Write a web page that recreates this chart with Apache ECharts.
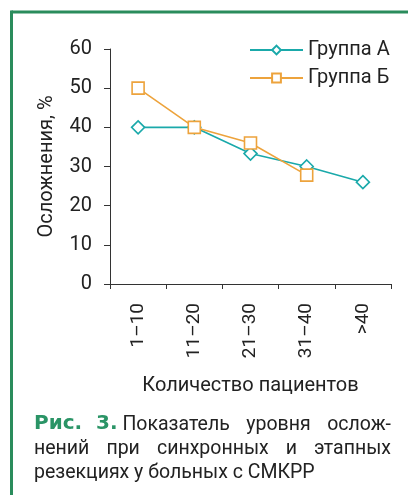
<!DOCTYPE html>
<html><head><meta charset="utf-8">
<script src="https://cdn.jsdelivr.net/npm/echarts@6/dist/echarts.min.js"></script>
<style>html,body{margin:0;padding:0;background:#fff}#c{width:408px;height:495px}</style>
</head><body><div id="c"></div>
<script>
var categories = ['1–10', '11–20', '21–30', '31–40', '>40'];
var groupA = [40, 40, 33.3, 30, 26];
var groupB = [50, 40, 36, 27.8, null];
var seriesNames = ['Группа А', 'Группа Б'];
var yTicks = [0, 10, 20, 30, 40, 50, 60];
var captionBold = 'Рис.  3.';
var captionLines = ['Показатель уровня ослож-', 'нений при синхронных и этапных', 'резекциях у больных с СМКРР'];

var teal = '#1aa9aa', orange = '#eda33c', frame = '#2a8c5c', ink = '#222';
var font = 'Roboto';
var capFont = '19.5px Roboto';
var boldFont = 'bold 20px "DejaVu Sans"';

var ctx = document.createElement('canvas').getContext('2d');
function measure(t, f) { ctx.font = f; return ctx.measureText(t).width; }

var graphics = [
  {type: 'line', shape: {x1: 11.5, y1: 12, x2: 408, y2: 12}, style: {stroke: frame, lineWidth: 3}},
  {type: 'line', shape: {x1: 11.5, y1: 10.5, x2: 11.5, y2: 495}, style: {stroke: frame, lineWidth: 3}}
];
var capLeft = 34, capRight = 391, lineTops = [415, 439, 463];
graphics.push({type: 'text', x: capLeft, y: lineTops[0] - 1, style: {text: captionBold, font: boldFont, fill: '#2a9466'}});
function justify(line, x0, x1, y) {
  var words = line.split(' ');
  var widths = words.map(function (w) { return measure(w, capFont); });
  var total = widths.reduce(function (a, b) { return a + b; }, 0);
  var gap = words.length > 1 ? (x1 - x0 - total) / (words.length - 1) : 0;
  var x = x0;
  words.forEach(function (w, i) {
    graphics.push({type: 'text', x: x, y: y, style: {text: w, font: capFont, fill: ink}});
    x += widths[i] + gap;
  });
}
var boldW = measure(captionBold, boldFont) + measure(' ', capFont);
justify(captionLines[0], capLeft + boldW, capRight, lineTops[0]);
justify(captionLines[1], capLeft, capRight, lineTops[1]);
graphics.push({type: 'text', x: capLeft, y: lineTops[2], style: {text: captionLines[2], font: capFont, fill: ink}});

var chart = echarts.init(document.getElementById('c'), null, {renderer: 'canvas'});
chart.setOption({
  backgroundColor: '#fff',
  animation: false,
  textStyle: {fontFamily: font},
  grid: {left: 110, right: 17, top: 49, bottom: 211},
  legend: {
    left: 249, top: 40, padding: 0, orient: 'vertical', itemWidth: 53, itemHeight: 11, itemGap: 8,
    textStyle: {fontSize: 20, color: ink, fontFamily: font, padding: [0, 0, 0, 0]},
    data: seriesNames
  },
  xAxis: {
    type: 'category', data: categories, boundaryGap: true,
    axisLine: {lineStyle: {color: '#333', width: 1}},
    axisTick: {show: true, alignWithLabel: false, length: 5, lineStyle: {color: '#333'}},
    axisLabel: {rotate: 90, fontSize: 19, color: ink, margin: 19, fontFamily: font},
    name: 'Количество пациентов', nameLocation: 'middle', nameGap: 92,
    nameTextStyle: {fontSize: 20, color: ink, fontFamily: font}
  },
  yAxis: {
    type: 'value', min: yTicks[0], max: yTicks[yTicks.length - 1], interval: 10,
    axisLine: {show: true, lineStyle: {color: '#333', width: 1}},
    axisTick: {show: true, length: 6, lineStyle: {color: '#333'}},
    splitLine: {show: false},
    axisLabel: {fontSize: 20, color: ink, margin: 18, fontFamily: font},
    name: 'Осложнения, %', nameLocation: 'middle', nameGap: 53,
    nameTextStyle: {fontSize: 20, color: ink, fontFamily: font}
  },
  series: [
    {
      name: seriesNames[0], type: 'line', data: groupA,
      symbol: 'diamond', symbolSize: 13, showAllSymbol: true,
      lineStyle: {color: teal, width: 1.6},
      itemStyle: {color: '#fff', borderColor: teal, borderWidth: 1.6}
    },
    {
      name: seriesNames[1], type: 'line', data: groupB,
      symbol: 'rect', symbolSize: 12, showAllSymbol: true,
      lineStyle: {color: orange, width: 1.6},
      itemStyle: {color: '#fff', borderColor: orange, borderWidth: 1.6}
    }
  ],
  graphic: graphics
});
</script></body></html>
